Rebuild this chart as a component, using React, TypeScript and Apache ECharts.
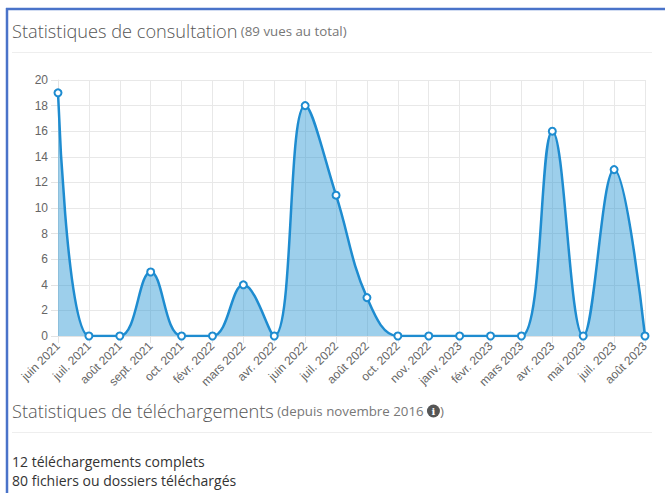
import React, { useEffect, useRef } from "react";
import * as echarts from "echarts";

const categories = [
  "juin 2021", "juil. 2021", "août 2021", "sept. 2021", "oct. 2021",
  "févr. 2022", "mars 2022", "avr. 2022", "juin 2022", "juil. 2022",
  "août 2022", "oct. 2022", "nov. 2022", "janv. 2023", "févr. 2023",
  "mars 2023", "avr. 2023", "mai 2023", "juil. 2023", "août 2023",
];
const views = [19, 0, 0, 5, 0, 0, 4, 0, 18, 11, 3, 0, 0, 0, 0, 0, 16, 0, 13, 0];
const yTicks = { min: 0, max: 20, interval: 2 };

const title1 = "Statistiques de consultation";
const sub1 = "(89 vues au total)";
const title2 = "Statistiques de téléchargements";
const sub2 = "(depuis novembre 2016";
const line1 = "12 téléchargements complets";
const line2 = "80 fichiers ou dossiers téléchargés";

export default function App() {
  const ref = useRef<HTMLDivElement>(null);
  useEffect(() => {
    if (!ref.current) return;
    const chart = echarts.init(ref.current, null, { renderer: "svg" });
    const lineColor = "#1e8cd0";
    const richTitle = {
      a: { fontSize: 18.2, fill: "#555", fontFamily: "Open Sans", fontWeight: 300 },
      b: { fontSize: 13.3, fill: "#777", fontFamily: "Open Sans" },
      i: {
        fontSize: 10, fill: "#fff", fontFamily: "DejaVu Serif", fontWeight: "bold",
        backgroundColor: "#555", borderRadius: 7, width: 13, height: 13, align: "center",
        lineHeight: 13,
      },
    };
    chart.setOption({
      animation: false,
      backgroundColor: "#fff",
      grid: { left: 58, right: 20, top: 80, bottom: 157, containLabel: false },
      xAxis: {
        type: "category",
        data: categories,
        boundaryGap: false,
        axisLine: { show: true, lineStyle: { color: "#e3e3e3" } },
        axisTick: { show: true, length: 7, alignWithLabel: true, lineStyle: { color: "#e3e3e3" } },
        splitLine: { show: true, lineStyle: { color: "#e8e8e8" } },
        axisLabel: {
          rotate: 45, interval: 0, color: "#666", fontSize: 12, margin: 8,
          fontFamily: "Liberation Sans, Arial, sans-serif",
        },
      },
      yAxis: {
        type: "value",
        min: yTicks.min, max: yTicks.max, interval: yTicks.interval,
        axisLine: { show: true, lineStyle: { color: "#e3e3e3" } },
        axisTick: { show: true, length: 7, lineStyle: { color: "#e3e3e3" } },
        splitLine: { show: true, lineStyle: { color: "#e8e8e8" } },
        axisLabel: {
          color: "#666", fontSize: 12, margin: 10,
          fontFamily: "Liberation Sans, Arial, sans-serif",
        },
      },
      series: [
        {
          type: "line",
          data: views,
          smooth: 0.4,
          symbol: "circle",
          symbolSize: 7,
          showAllSymbol: true,
          itemStyle: { color: "#fff", borderColor: lineColor, borderWidth: 2 },
          lineStyle: { color: lineColor, width: 2.5 },
          areaStyle: { color: "rgba(30,144,210,0.62)" },
          z: 3,
        },
      ],
      graphic: [
        { type: "line", shape: { x1: 6, y1: 9, x2: 665, y2: 9 }, style: { stroke: "#4a73c9", lineWidth: 2.5 } },
        { type: "line", shape: { x1: 7, y1: 8, x2: 7, y2: 493 }, style: { stroke: "#4a73c9", lineWidth: 2.5 } },
        { type: "line", shape: { x1: 12, y1: 52.5, x2: 652, y2: 52.5 }, style: { stroke: "#eeeeee", lineWidth: 1 } },
        { type: "line", shape: { x1: 12, y1: 432.5, x2: 652, y2: 432.5 }, style: { stroke: "#eeeeee", lineWidth: 1 } },
        {
          type: "text", left: 12, top: 22,
          style: { text: `{a|${title1}} {b|${sub1}}`, rich: richTitle },
        },
        {
          type: "text", left: 12, top: 402,
          style: { text: `{a|${title2}} {b|${sub2}} {i|i}{b|)}`, rich: richTitle },
        },
        { type: "text", left: 12, top: 454, style: { text: line1, fill: "#333", fontSize: 14, fontFamily: "Open Sans" } },
        { type: "text", left: 12, top: 473, style: { text: line2, fill: "#333", fontSize: 14, fontFamily: "Open Sans" } },
      ],
    });
    return () => chart.dispose();
  }, []);
  return (
    <div
      ref={ref}
      style={{ position: "absolute", left: 0, top: 0, width: 665, height: 493 }}
    />
  );
}
